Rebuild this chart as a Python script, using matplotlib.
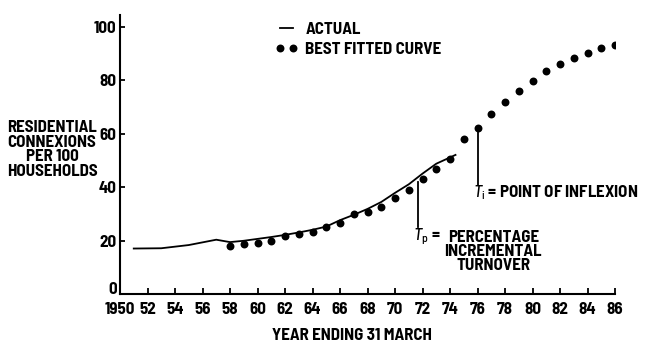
import matplotlib
matplotlib.use("Agg")
import matplotlib.pyplot as plt
from matplotlib.lines import Line2D

# Residential telephone connexions per 100 households
actual_years = [1951, 1953, 1955, 1957, 1958, 1959, 1960, 1961, 1962, 1963,
                1964, 1965, 1966, 1967, 1968, 1969, 1970, 1971, 1972, 1973, 1974.4]
actual_values = [17.0, 17.1, 18.3, 20.3, 19.4, 19.9, 20.6, 21.3, 22.1, 23.0,
                 24.0, 25.2, 27.6, 29.6, 31.8, 34.4, 37.8, 41.0, 45.0, 48.7, 52.0]

fitted_years = list(range(1958, 1987))
fitted_values = [18.0, 18.6, 19.1, 19.7, 21.7, 22.6, 23.3, 24.9, 26.7, 30.0,
                 30.6, 32.7, 35.8, 38.9, 42.9, 46.8, 50.5, 58.1, 62.2, 67.2,
                 71.8, 76.0, 79.6, 83.4, 85.9, 88.4, 90.2, 92.1, 93.0]

x_ticks = list(range(1950, 1987, 2))
x_tick_labels = ["1950"] + [str(y % 100) for y in x_ticks[1:]]
y_ticks = [0, 20, 40, 60, 80, 100]

# key years marked on the curve
t_inflexion = 1976
t_inflexion_value = 62.2
t_turnover = 1971.7
t_turnover_value = 42.0

FONT = ["Barlow Semi Condensed", "DejaVu Sans"]
plt.rcParams["font.family"] = FONT
plt.rcParams["font.weight"] = "bold"
plt.rcParams["mathtext.fontset"] = "custom"
plt.rcParams["mathtext.it"] = "Barlow Semi Condensed:italic:medium"
plt.rcParams["mathtext.rm"] = "Barlow Semi Condensed:medium"
FS = 12.2

fig = plt.figure(figsize=(6.48, 3.45), dpi=100)
ax = fig.add_axes([120 / 648, 51 / 345, 495 / 648, 279 / 345])

ax.plot(actual_years, actual_values, color="black", lw=1.3, zorder=2)
ax.plot(fitted_years, fitted_values, "o", color="black", ms=5.7, mew=0, zorder=3)

ax.set_xlim(1950, 1986)
ax.set_ylim(0, 104.3)
ax.set_xticks(x_ticks)
ax.set_xticklabels(x_tick_labels)
ax.set_yticks(y_ticks)

for side in ("top", "right"):
    ax.spines[side].set_visible(False)
for side in ("left", "bottom"):
    ax.spines[side].set_linewidth(1.5)
ax.tick_params(axis="both", direction="in", width=1.3, labelsize=FS)
ax.tick_params(axis="x", length=4.5, pad=6)
ax.tick_params(axis="y", length=3.5, pad=2.5)
for lab in ax.get_xticklabels() + ax.get_yticklabels():
    lab.set_fontweight("bold")
# the zero label sits on the axis line, clear of the year labels
ax.get_yticklabels()[0].set_verticalalignment("baseline")

# markers for inflexion and percentage incremental turnover
ax.plot([t_inflexion, t_inflexion], [t_inflexion_value, 40.7], color="black", lw=1.3, zorder=2)
ax.plot([t_turnover, t_turnover], [t_turnover_value, 25.0], color="black", lw=1.3, zorder=2)

ax.text(1975.7, 37.8, r"$T_{\rm i}$ = POINT OF INFLEXION", fontsize=FS,
        fontweight="bold", ha="left", va="center")
ax.text(1971.3, 21.3, r"$T_{\rm p}$ =", fontsize=FS, fontweight="bold",
        ha="left", va="center")
ax.text(1977.15, 15.9, "PERCENTAGE\nINCREMENTAL\nTURNOVER", fontsize=FS,
        fontweight="bold", ha="center", va="center", multialignment="center",
        linespacing=0.95)

handles = [Line2D([], [], color="black", lw=1.3),
           Line2D([], [], color="black", marker="o", ls="none", ms=5.7, mew=0)]
leg = ax.legend(handles, ["ACTUAL", "BEST FITTED CURVE"], numpoints=2,
                frameon=False, loc="upper left",
                bbox_to_anchor=(268 / 648, 1 - 15 / 345),
                bbox_transform=fig.transFigure,
                prop={"family": FONT, "weight": "bold", "size": FS},
                handlelength=1.4, handletextpad=0.4, labelspacing=0.3,
                borderaxespad=0)

fig.text(52 / 648, 1 - 149.5 / 345,
         "RESIDENTIAL\nCONNEXIONS\nPER 100\nHOUSEHOLDS",
         fontsize=FS, fontweight="bold", ha="center", va="center",
         multialignment="center", linespacing=0.95)
fig.text(352 / 648, 1 - 336 / 345, "YEAR ENDING 31 MARCH", fontsize=FS,
         fontweight="bold", ha="center", va="center")

fig.savefig("out.png", dpi=100)
